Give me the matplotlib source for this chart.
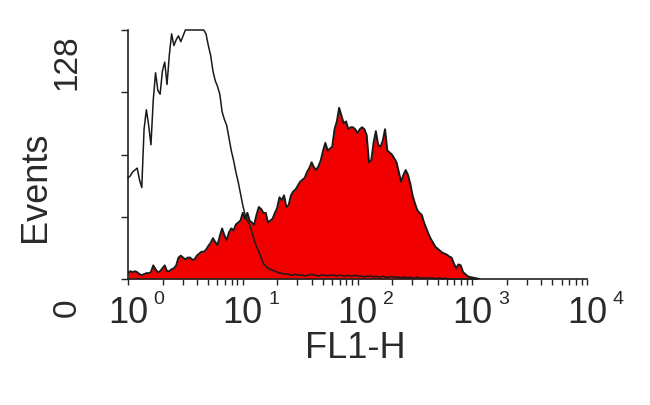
import numpy as np
import matplotlib
matplotlib.use("Agg")
import matplotlib.pyplot as plt

plt.rcParams['font.family'] = ['Liberation Sans', 'DejaVu Sans']

# channel spacing (decades) of the digitised histograms
bin_step = 0.02

control_counts = [52, 53, 55, 56, 57, 51, 47, 77, 87, 79,
                  69, 92, 106, 97, 95, 107, 111.5, 100, 115, 126,
                  120, 123, 125, 122, 125, 128, 128, 128, 128, 128,
                  128, 128, 128, 128, 126, 120, 115, 107, 102, 99,
                  95, 86, 82, 79, 72.5, 66, 61, 55, 50, 44,
                  38, 33, 30, 28, 24, 20, 16.5, 14, 11, 8,
                  6.5, 5.5, 5, 4.5, 4, 3.5, 3, 3, 2.5, 2.5,
                  2.5, 2, 2, 2.5, 2, 2, 2, 1.5, 2, 2,
                  2.5, 2, 2, 1.5, 2, 2, 2, 1.5, 2, 2,
                  2, 1.5, 2, 2, 1.5, 1.5, 2, 1.5, 1.5, 2,
                  1.5, 1.5, 1.5, 1, 1.5, 1.5, 1.5, 1, 1.5, 1,
                  1, 1.5, 1, 1, 1, 1.5, 1, 1, 1, 0.5,
                  1, 1, 0.5, 1, 0.5, 0.5, 1, 0.5, 0.5, 0.5,
                  0.5, 0.5, 0.5, 0.5, 0, 0.5, 0.5, 0, 0.5, 0,
                  0, 0, 0, 0, 0, 0, 0, 0, 0, 0, 0, 0, 0]

sample_counts = [3, 4, 3.5, 4, 3.5, 2.5, 2, 2.5, 3, 3,
                 3.5, 7, 5, 3.5, 4, 5.5, 7, 4, 4, 5,
                 5.5, 7, 11, 12, 11, 10, 11, 11, 10, 10,
                 12, 13, 14, 14, 15, 17, 18.5, 21, 19, 17.5,
                 22, 26, 22.5, 20, 24, 26, 25, 28, 29, 30,
                 34, 31, 34, 30, 29, 28, 33, 37, 36, 34,
                 34, 29, 30, 31, 34, 36.5, 42, 40.5, 43, 37,
                 38, 43, 45, 46, 48, 50, 51, 52, 55, 57,
                 60, 57.5, 56, 58, 61, 66, 70, 66, 67, 68,
                 77, 81, 88, 84, 80, 81, 77, 78, 78, 77,
                 75, 77, 78, 77, 74, 60, 61, 70, 76, 69,
                 68, 71, 77, 66, 65, 64, 62, 60, 55, 50,
                 53.5, 56, 53.5, 49, 43, 39, 35.5, 34, 33, 29,
                 26, 23, 20.5, 18.5, 16.5, 15.5, 14.5, 13.5, 13, 12.5,
                 11.5, 11, 8, 5.5, 7.5, 7, 3.5, 2.5, 1.5, 1,
                 0.8, 0.5, 0.3, 0]

x_ticks = [1, 10, 100, 1000, 10000]
x_exponents = ['0', '1', '2', '3', '4']
y_max = 128

x_control = 10 ** (np.arange(len(control_counts)) * bin_step)
x_sample = 10 ** (np.arange(len(sample_counts)) * bin_step)

W, H = 650, 405
fig = plt.figure(figsize=(6.5, 4.05), dpi=100)
ax = fig.add_axes([128 / W, 1 - 279 / H, (587 - 128) / W, (279 - 30) / H])

ax.fill_between(x_sample, sample_counts, 0, color='#f20000', lw=0, zorder=2)
ax.plot(x_sample, sample_counts, color='#1a1a1a', lw=1.4, zorder=3)
ax.plot(x_control, control_counts, color='#1a1a1a', lw=1.1, zorder=4, clip_on=False)

ax.set_xscale('log')
ax.set_xlim(1, 10000)
ax.set_ylim(0, y_max)

for s in ['top', 'right']:
    ax.spines[s].set_visible(False)
for s in ['left', 'bottom']:
    ax.spines[s].set_linewidth(1.2)
    ax.spines[s].set_color('#222222')

ax.set_xticks(x_ticks)
ax.set_xticklabels([])
ax.xaxis.set_minor_locator(matplotlib.ticker.LogLocator(base=10, subs=np.arange(2, 10)))
ax.xaxis.set_minor_formatter(matplotlib.ticker.NullFormatter())
ax.tick_params(axis='x', which='both', direction='out', length=4, width=1, colors='#222222')
ax.set_yticks([0, 32, 64, 96, 128])
ax.set_yticklabels([])
ax.tick_params(axis='y', direction='out', length=5, width=1, colors='#222222')

tc = '#2a2a2a'
for xv, e in zip(x_ticks, x_exponents):
    ax.annotate('10', xy=(xv, 0), xycoords=('data', 'axes fraction'),
                xytext=(0, -12), textcoords='offset points', ha='center', va='top',
                fontsize=26, color=tc)
    ax.annotate(e, xy=(xv, 0), xycoords=('data', 'axes fraction'),
                xytext=(18.5, -8.5), textcoords='offset points', ha='left', va='top',
                fontsize=14, color=tc)

fig.text(355 / W, 1 - 348 / H, 'FL1-H', ha='center', va='center', fontsize=26, color=tc)
fig.text(35 / W, 1 - 187 / H, 'Events', ha='center', va='center', rotation=90,
         fontsize=26, color=tc)
fig.text(67 / W, 1 - 62 / H, '128', ha='center', va='center', rotation=90,
         fontsize=24, color=tc)
fig.text(67 / W, 1 - 308 / H, '0', ha='center', va='center', rotation=90,
         fontsize=24, color=tc)

fig.savefig('out.png', dpi=100, facecolor='white')
